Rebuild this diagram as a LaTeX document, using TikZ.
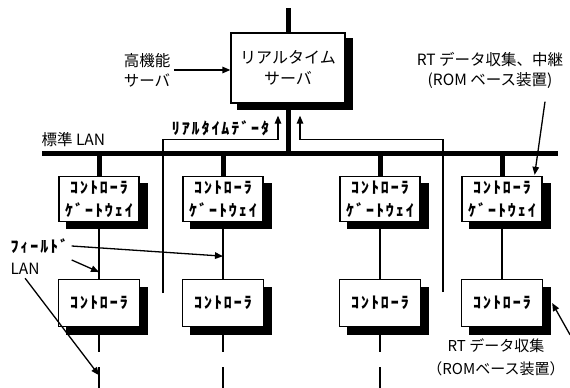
\documentclass[tikz,border=0pt]{standalone}
\usepackage{fontspec}
\setmainfont{Noto Sans CJK JP}
\newfontfamily\hankaku[LetterSpace=12]{Noto Sans CJK JP}
\usetikzlibrary{positioning,arrows.meta,backgrounds,calc}
\tikzset{
  whitebox/.style={
    draw,
    line width=1.3pt,
    fill=white
  },
  srvbox/.style={
    whitebox,
    minimum width=114pt,
    minimum height=70pt,
    align=center,
    font=\fontsize{16}{21}\selectfont
  },
  gwbox/.style={
    whitebox,
    minimum width=80pt,
    minimum height=45pt,
    align=center,
    font=\hankaku\bfseries\fontsize{16}{23}\selectfont
  },
  ctlbox/.style={
    whitebox,
    minimum width=81pt,
    minimum height=47pt,
    font=\hankaku\bfseries\fontsize{16}{17}\selectfont
  },
  shade/.style={fill=black},
  lbl/.style={align=center,font=\fontsize{15.5}{20}\selectfont},
  hwlbl/.style={font=\hankaku\bfseries\fontsize{16}{17}\selectfont},
  bus/.style={line width=5pt},
  link/.style={line width=1.3pt},
  arrow/.style={-{Triangle[length=8pt,width=6.5pt]},line width=1.3pt}
}
\begin{document}
\begin{tikzpicture}[x=1pt,y=-1pt]
    \useasboundingbox (0,0) rectangle (570,388);
    % real-time server and standard LAN
    \node[srvbox] (srv) at (288,68) {リアルタイム\\サーバ};
    \coordinate (feed) at (288,8);
    \draw[bus] (feed) -- (srv.north);
    \coordinate (lanL) at (42,153);
    \coordinate (lanR) at (558,153);
    \draw[bus] (lanL) -- (lanR);
    \draw[bus] (srv.south) -- (srv.south |- lanL);
    \node[lbl,anchor=south west] (std) at (38,150) {標準 LAN};
    % gateways
    \node[gwbox] (gw1) at (99,199) {ｺﾝﾄﾛｰﾗ\\ｹﾞｰﾄｳｪｲ};
    \node[gwbox] (gw2) at (223,199) {ｺﾝﾄﾛｰﾗ\\ｹﾞｰﾄｳｪｲ};
    \node[gwbox] (gw3) at (380,199) {ｺﾝﾄﾛｰﾗ\\ｹﾞｰﾄｳｪｲ};
    \node[gwbox] (gw4) at (502,199) {ｺﾝﾄﾛｰﾗ\\ｹﾞｰﾄｳｪｲ};
    \draw[bus] (gw1.north) -- (gw1.north |- lanL);
    \draw[bus] (gw2.north) -- (gw2.north |- lanL);
    \draw[bus] (gw3.north) -- (gw3.north |- lanL);
    \draw[bus] (gw4.north) -- (gw4.north |- lanL);
    % controllers on field LAN
    \node[ctlbox] (ctl1) at (99,303) {ｺﾝﾄﾛｰﾗ};
    \node[ctlbox] (ctl2) at (223,303) {ｺﾝﾄﾛｰﾗ};
    \node[ctlbox] (ctl3) at (380,303) {ｺﾝﾄﾛｰﾗ};
    \node[ctlbox] (ctl4) at (502,303) {ｺﾝﾄﾛｰﾗ};
    \draw[link] (gw1.south) -- (ctl1.north);
    \draw[link] (gw2.south) -- (ctl2.north);
    \draw[link] (gw3.south) -- (ctl3.north);
    \draw[link] (gw4.south) -- (ctl4.north);
    \coordinate (end1) at (99,388);
    \coordinate (end2) at (223,388);
    \coordinate (end3) at (380,388);
    \draw[link,dash pattern=on 25pt off 15pt] (ctl1.south) -- (end1);
    \draw[link,dash pattern=on 25pt off 15pt] (ctl2.south) -- (end2);
    \draw[link,dash pattern=on 25pt off 15pt] (ctl3.south) -- (end3);
    % shadows
    \begin{scope}[on background layer]
      \fill[shade] ([shift={(7,6)}]srv.south west) rectangle ([shift={(7,6)}]srv.north east);
      \fill[shade] ([shift={(8,7)}]gw1.south west) rectangle ([shift={(8,7)}]gw1.north east);
      \fill[shade] ([shift={(8,7)}]gw2.south west) rectangle ([shift={(8,7)}]gw2.north east);
      \fill[shade] ([shift={(8,7)}]gw3.south west) rectangle ([shift={(8,7)}]gw3.north east);
      \fill[shade] ([shift={(8,7)}]gw4.south west) rectangle ([shift={(8,7)}]gw4.north east);
      \fill[shade] ([shift={(8,8)}]ctl1.south west) rectangle ([shift={(8,8)}]ctl1.north east);
      \fill[shade] ([shift={(8,8)}]ctl2.south west) rectangle ([shift={(8,8)}]ctl2.north east);
      \fill[shade] ([shift={(8,8)}]ctl3.south west) rectangle ([shift={(8,8)}]ctl3.north east);
      \fill[shade] ([shift={(8,8)}]ctl4.south west) rectangle ([shift={(8,8)}]ctl4.north east);
    \end{scope}
    % real-time data
    \coordinate (rdL) at (163,293);
    \coordinate (rdR) at (443,292);
    \draw[arrow] (rdL) |- node[hwlbl,pos=0.75,above] (rtd) {ﾘｱﾙﾀｲﾑﾃﾞｰﾀ}
      ($(srv.south)+(-10,36)$) -- ($(srv.south)+(-10,12)$);
    \draw[arrow] (rdR) |- ($(srv.south)+(12,36)$) -- ($(srv.south)+(12,12)$);
    % labels
    \node[lbl,align=left] (hk) at (147,70) {高機能\\サーバ};
    \draw[arrow] (hk.east) -- (hk.east -| srv.west);
    \node[lbl] (rtc) at (490,70) {RT データ収集、中継\\(ROM ベース装置)};
    \draw[arrow] ($(rtc.south)+(55,10)$) -- ($(gw4.north east)+(-8,-1)$);
    \node[lbl,font=\fontsize{15}{23}\selectfont] (rtb) at (496,357) {RT データ収集\\（ROMベース装置）};
    \draw[arrow] ($(rtb.north east)+(2,0)$) -- ($(ctl4.east)+(9,0)$);
    \node[hwlbl,anchor=west] (fldA) at (7,246) {ﾌｨｰﾙﾄﾞ};
    \node[lbl,anchor=west] (fldB) at (7,269) {LAN};
    \draw[arrow] (fldA.east) -- ($(gw2.south)!0.6!(ctl2.north)$);
    \draw[arrow] ($(fldA.south east)+(0,3)$) -- ($(gw1.south)!0.88!(ctl1.north)$);
    \draw[arrow] (fldB.south) -- ($(ctl1.south)!0.79!(end1)$);
\end{tikzpicture}
\end{document}
